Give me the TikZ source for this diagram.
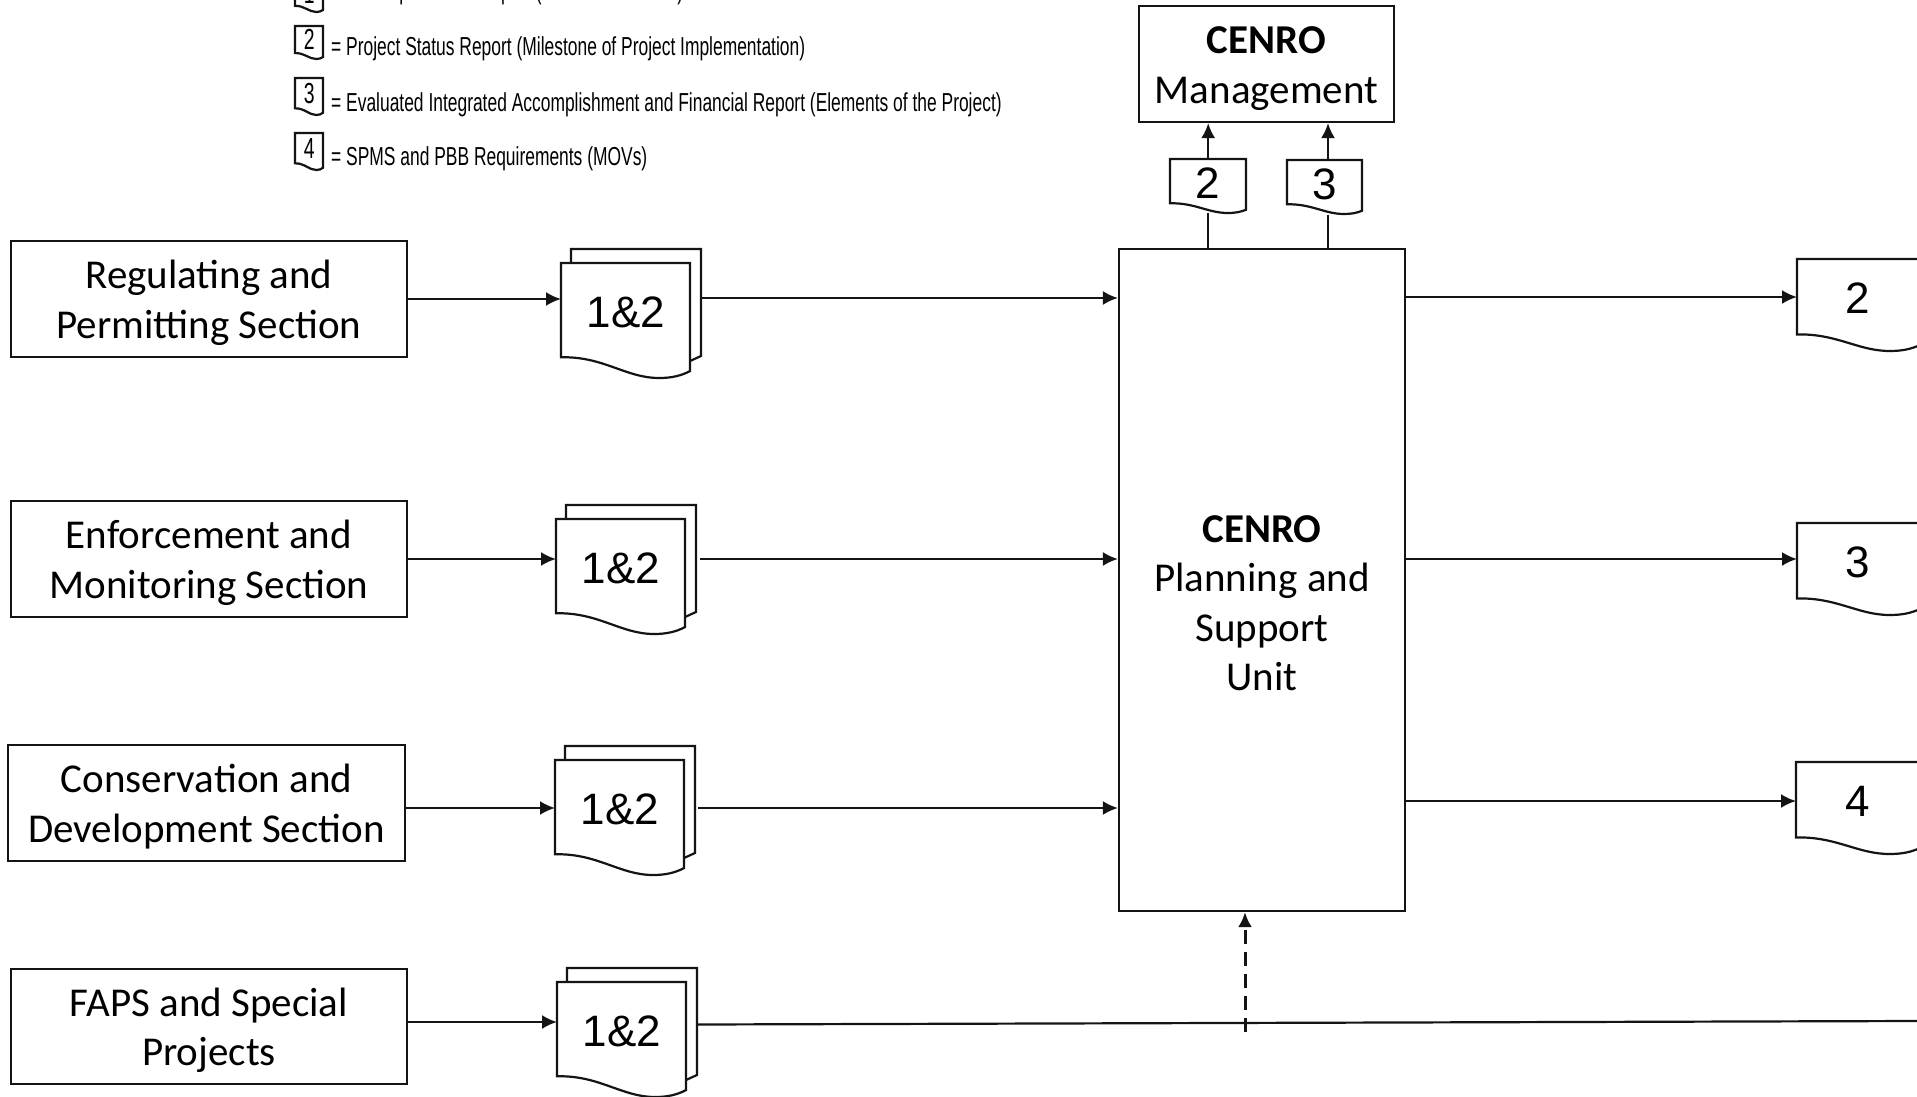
\documentclass[tikz,border=0pt]{standalone}
\usepackage{fontspec}
\setmainfont{Carlito}
\newfontfamily\numfont{Liberation Sans}
\newfontfamily\legfont[FakeStretch=0.67]{Liberation Sans}
\usetikzlibrary{arrows.meta,calc}
\tikzset{
  ln/.style={line width=2.2pt,draw=black!92},
  arr/.style={ln,-{Latex[length=15pt,width=14pt]}},
  boxn/.style={ln,rectangle,inner sep=0pt,align=center,font=\fontsize{41}{49.5}\selectfont},
  lab/.style={inner sep=0pt,align=center,font=\fontsize{41}{49.5}\selectfont},
  leg/.style={inner sep=0pt,anchor=west,font=\legfont\fontsize{26}{28}\selectfont},
}
\newcommand\tl{\rule{0pt}{36pt}}
% #1 name, #2 x, #3 y (top left), #4 w, #5 H to lowest point, #6 text, #7 font, #8 text shift
\newcommand\docshape[8]{%
  \path[ln,fill=white] (#2,#3)
    -- ({#2+#4},#3) -- ({#2+#4},{#3+.94*#5})
    .. controls ({#2+.93*#4},{#3+.98*#5}) and ({#2+.86*#4},{#3+#5}) .. ({#2+.76*#4},{#3+#5})
    .. controls ({#2+.5*#4},{#3+#5}) and ({#2+.33*#4},{#3+.81*#5}) .. (#2,{#3+.82*#5})
    -- cycle;
  \node[inner sep=0pt,minimum width=#4pt,minimum height=#5pt,anchor=north west] (#1) at (#2,#3) {};
  \node[inner sep=0pt,font=#7] (#1t) at ($(#1.center)+(0,#8)$) {#6};
}
\newcommand\backpage[2]{%
  \draw[ln,fill=white] ({#1+10},{#2+14}) -- ++(0,-14) -- ++(130,0) -- ++(0,107) -- ++(-11,5);
}
\newcommand\numbig{\numfont\fontsize{44}{44}\selectfont}
\newcommand\numsmall{\legfont\fontsize{29}{29}\selectfont}
\begin{document}
\begin{tikzpicture}[x=1pt,y=-1pt]
\useasboundingbox (0,0) rectangle (1917,1097);
\fill[white] (0,0) rectangle (1917,1097);

% left boxes
\node[boxn,minimum width=396pt,minimum height=116pt] (reg) at (209,299) {\tl Regulating and\\Permitting Section};
\node[boxn,minimum width=396pt,minimum height=116pt] (enf) at (209,559) {\tl Enforcement and\\Monitoring Section};
\node[boxn,minimum width=397pt,minimum height=116pt] (con) at (206.5,803) {\tl Conservation and\\Development Section};
\node[boxn,minimum width=396pt,minimum height=115pt] (fap) at (209,1026.5) {\tl FAPS and Special\\Projects};

% centre
\node[boxn,minimum width=286pt,minimum height=662pt] (unit) at (1262,580) {};
\node[lab] (unitlab) at (1262,603) {\textbf{CENRO}\\Planning and\\Support\\Unit};
\node[boxn,minimum width=255pt,minimum height=116pt] (mgmt) at (1266.5,64) {\tl\textbf{CENRO}\\Management};

% stacks
\backpage{561}{249}
\docshape{d1}{561}{263}{129}{115}{1\&2}{\numbig}{-8}
\backpage{556}{505}
\docshape{d2}{556}{519}{129}{115}{1\&2}{\numbig}{-8}
\backpage{555}{746}
\docshape{d3}{555}{760}{129}{115}{1\&2}{\numbig}{-8}
\backpage{557}{968}
\docshape{d4}{557}{982}{129}{115}{1\&2}{\numbig}{-8}

% small docs to management
\docshape{u2}{1170}{159}{76}{54}{2}{\numbig}{-3}
\docshape{u3}{1287}{160}{75}{54}{3}{\numbig}{-3}

% right docs
\docshape{r2}{1797}{259}{122}{92}{2}{\numbig}{-7}
\docshape{r3}{1797}{523}{122}{92}{3}{\numbig}{-7}
\docshape{r4}{1796}{762}{123}{92}{4}{\numbig}{-7}

% legend
\docshape{l1}{295}{-22}{28}{34}{1}{\numsmall}{-2}
\docshape{l2}{295}{26}{28}{33}{2}{\numsmall}{-3}
\docshape{l3}{295}{78}{28}{37}{3}{\numsmall}{-3}
\docshape{l4}{295}{133}{28}{37}{4}{\numsmall}{-3}
\node[leg] (t1) at (331,-7) {= Accomplishment Report (Elements of WFP)};
\node[leg] (t2) at (331,49) {= Project Status Report (Milestone of Project Implementation)};
\node[leg] (t3) at (331,105) {= Evaluated Integrated Accomplishment and Financial Report (Elements of the Project)};
\node[leg] (t4) at (331,158.5) {= SPMS and PBB Requirements (MOVs)};

% named end points
\coordinate (a1) at (407,299);
\coordinate (a2) at (407,559);
\coordinate (a3) at (405,808);
\coordinate (a4) at (407,1022);
\coordinate (o1) at (701,298);
\coordinate (o2) at (700,559);
\coordinate (o3) at (698,808);
\coordinate (o4) at (698,1024.5);
\coordinate (e4) at (1917,1021);
\coordinate (p1) at (1405,297);
\coordinate (p2) at (1405,559);
\coordinate (p3) at (1405,801);
\coordinate (x3) at (1328,215);
\coordinate (dash) at (1245,1032);

% connectors
\draw[arr] (a1) -- (a1 -| d1.west);
\draw[arr] (a2) -- (a2 -| d2.west);
\draw[arr] (a3) -- (a3 -| d3.west);
\draw[arr] (a4) -- (a4 -| d4.west);
\draw[arr] (o1) -- (o1 -| unit.west);
\draw[arr] (o2) -- (o2 -| unit.west);
\draw[arr] (o3) -- (o3 -| unit.west);
\draw[ln] (o4) -- (e4);
\draw[arr] (p1) -- (p1 -| r2.west);
\draw[arr] (p2) -- (p2 -| r3.west);
\draw[arr] (p3) -- (p3 -| r4.west);
\draw[ln] (u2.south |- unit.north) -- (u2.south);
\draw[ln] (x3 |- unit.north) -- (x3);
\draw[arr] (u2.north) -- (u2.north |- mgmt.south);
\draw[arr] (x3 |- u3.north) -- (x3 |- mgmt.south);
\draw[ln,line width=3pt,dash pattern=on 14pt off 8pt,-{Latex[length=15pt,width=14pt]}] (dash) -- (dash |- unit.south);
\end{tikzpicture}
\end{document}
